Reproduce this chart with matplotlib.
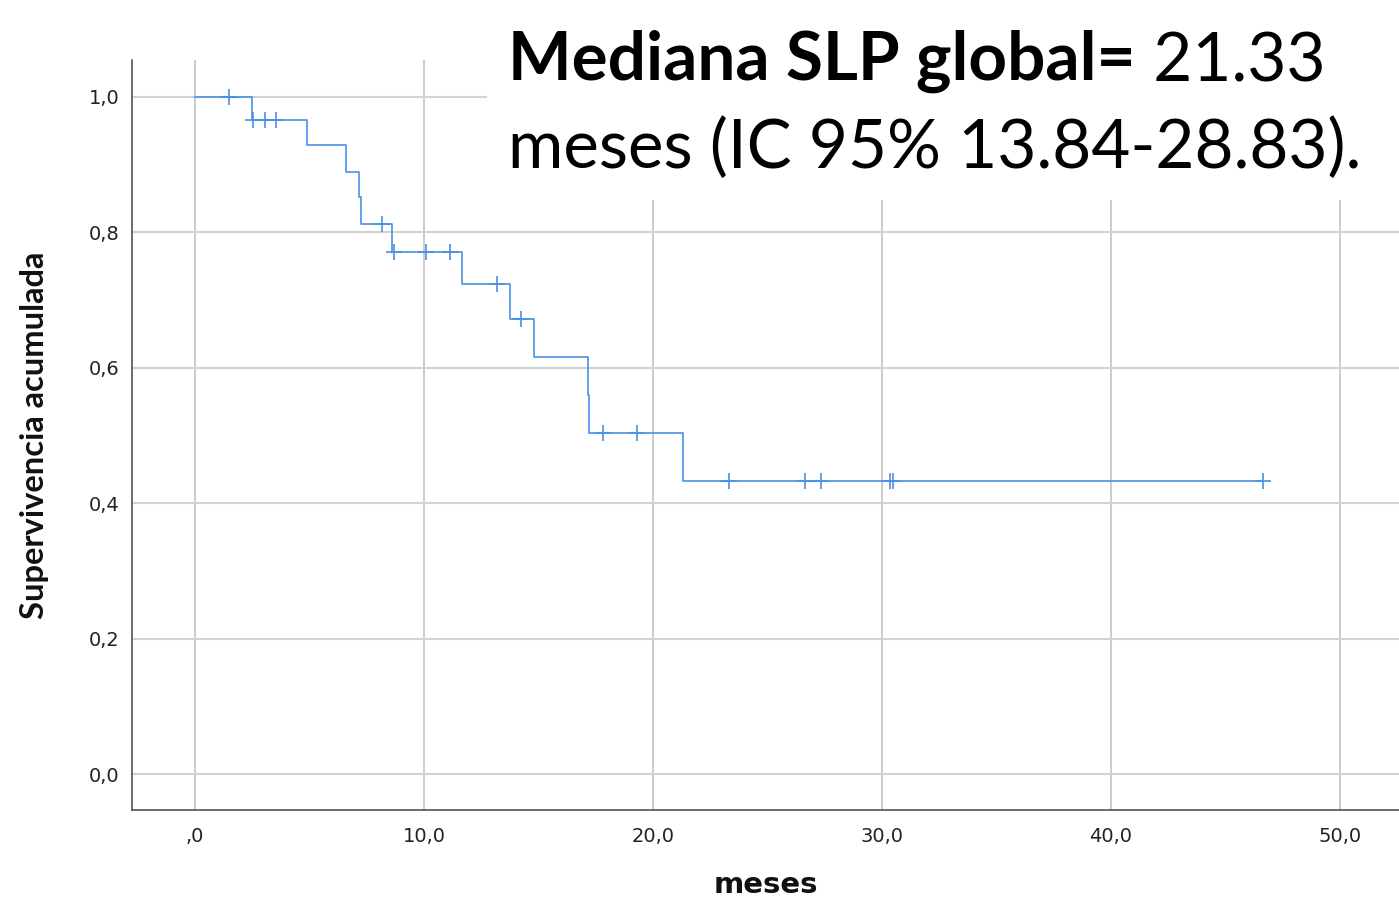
import matplotlib
matplotlib.use("Agg")
import matplotlib.pyplot as plt
from matplotlib.patches import Rectangle
from matplotlib.text import Annotation

# Kaplan-Meier steps
event_times = [0.0, 2.47, 4.88, 6.59, 7.18, 7.25, 8.59, 11.65, 13.76, 14.80, 17.15, 17.22, 21.33]
survival = [1.0, 0.966, 0.928, 0.889, 0.852, 0.812, 0.771, 0.723, 0.671, 0.616, 0.559, 0.503, 0.432]

# censored cases (+ marks)
censor_x = [1.48, 2.52, 3.06, 3.54, 8.15, 8.69, 10.07, 11.14, 13.17, 14.22,
            17.83, 19.29, 23.32, 26.64, 27.36, 30.35, 30.50, 46.66]
censor_y = [1.0, 0.966, 0.966, 0.966, 0.812, 0.771, 0.771, 0.771, 0.723, 0.671,
            0.503, 0.503, 0.432, 0.432, 0.432, 0.432, 0.432, 0.432]

x_ticks = [0, 10, 20, 30, 40, 50]
x_labels = [",0", "10,0", "20,0", "30,0", "40,0", "50,0"]
y_ticks = [0.0, 0.2, 0.4, 0.6, 0.8, 1.0]
y_labels = ["0,0", "0,2", "0,4", "0,6", "0,8", "1,0"]

W, H = 1399, 899
fig = plt.figure(figsize=(W / 100, H / 100), dpi=100)
ax = fig.add_axes([132 / W, 1 - 810 / H, 1 - 132 / W, (810 - 60) / H])

# step curve
xs = event_times + [censor_x[-1]]
ys = survival + [survival[-1]]
ax.plot(xs, ys, drawstyle="steps-post", color="#4a8fe3", lw=1.2, zorder=3)
ax.plot(censor_x, censor_y, ls="none", marker="+", ms=12, mew=1.2,
        color="#4a8fe3", zorder=3)

ax.set_xlim(-2.75, 52.58)
ax.set_ylim(-0.053, 1.054)
ax.set_xticks(x_ticks)
ax.set_xticklabels(x_labels)
ax.set_yticks(y_ticks)
ax.set_yticklabels(y_labels)
ax.tick_params(length=0, labelsize=14, colors="#222222")
ax.tick_params(axis="x", pad=12)
ax.tick_params(axis="y", pad=9)

ax.grid(axis="y", color="#d2d2d2", lw=1.5)
ax.grid(axis="x", color="#c4c4c4", lw=1.2)
ax.set_axisbelow(True)

for s in ["top", "right"]:
    ax.spines[s].set_visible(False)
for s in ["left", "bottom"]:
    ax.spines[s].set_color("#444444")
    ax.spines[s].set_linewidth(1.1)

ax.set_xlabel("meses", fontsize=21, fontweight="bold", color="#111111",
              family="DejaVu Sans", labelpad=18)
ax.set_ylabel("Supervivencia acumulada", fontsize=23.5, fontweight="bold",
              color="#111111", family="Lato")
ax.yaxis.set_label_coords((49 - 132) / (W - 132), 0.5)

# white box behind the annotation
fig.patches.append(Rectangle((487 / W, 1 - 200 / H), 1, 1, transform=fig.transFigure,
                             facecolor="white", edgecolor="none", zorder=1))

t1 = fig.text(508 / W, 1 - 80 / H, "Mediana SLP global=", fontsize=48.5,
              fontweight="bold", family="Lato", va="baseline", zorder=4)
t2 = Annotation(" 21.33", xy=(1, 0), xycoords=t1, va="bottom", ha="left",
                fontsize=48.5, family="Lato", zorder=4)
fig.add_artist(t2)
fig.text(508 / W, 1 - 168 / H, "meses (IC 95% 13.84-28.83).", fontsize=48.5,
         family="Lato", va="baseline", zorder=4)

fig.savefig("out.png", dpi=100)
